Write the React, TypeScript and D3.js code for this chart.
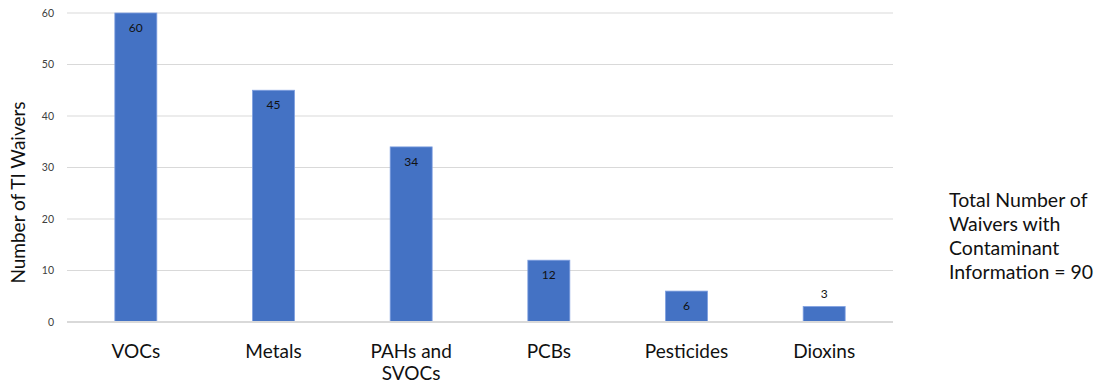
import React from "react";
import * as d3 from "d3";

const categories = ["VOCs", "Metals", "PAHs and SVOCs", "PCBs", "Pesticides", "Dioxins"];
const values = [60, 45, 34, 12, 6, 3];
const yTicks = [0, 10, 20, 30, 40, 50, 60];
const annotation = ["Total Number of", "Waivers with", "Contaminant", "Information = 90"];
const yTitle = "Number of TI Waivers";

const W = 1099, H = 387;
const left = 67, right = 893, top = 13, bottom = 322;
const font = "Lato, 'Open Sans', sans-serif";

export default function App() {
  const x = d3.scaleBand<string>().domain(categories).range([left, right]).paddingInner(0.695).paddingOuter(0.3475);
  const y = d3.scaleLinear().domain([0, 60]).range([bottom, top]);
  const labelLines: Record<string, string[]> = { "PAHs and SVOCs": ["PAHs and", "SVOCs"] };
  return (
    <svg width={W} height={H} style={{ position: "absolute", left: 0, top: 0, background: "#fff" }} fontFamily={font}>
      {yTicks.map((t) => (
        <g key={t}>
          {t > 0 && <line x1={left} x2={right} y1={y(t)} y2={y(t)} stroke="#d9d9d9" strokeWidth={1} />}
          <text x={54} y={y(t)} dy="0.35em" textAnchor="end" fontSize={10.5} fill="#404040">{t}</text>
        </g>
      ))}
      {categories.map((c, i) => {
        const bx = x(c)!;
        const bw = x.bandwidth();
        const by = y(values[i]);
        const h = bottom - by;
        const inside = h > 25;
        return (
          <g key={c}>
            <rect x={bx} y={by} width={bw} height={h} fill="#4472C4" stroke="#7f9fe0" strokeWidth={0.8} />
            <text x={bx + bw / 2} y={inside ? by + 15 : by - 13} dy="0.35em" textAnchor="middle" fontSize={12} fill="#111">{values[i]}</text>
            {(labelLines[c] || [c]).map((l, j) => (
              <text key={j} x={bx + bw / 2} y={358 + j * 22} textAnchor="middle" fontSize={19} fill="#111">{l}</text>
            ))}
          </g>
        );
      })}
      <line x1={left} x2={right} y1={bottom} y2={bottom} stroke="#d9d9d9" strokeWidth={2} />
      <text transform={`translate(25,${(top + bottom) / 2 + 25}) rotate(-90)`} textAnchor="middle" fontSize={19} fill="#111">{yTitle}</text>
      {annotation.map((l, i) => (
        <text key={i} x={949} y={207 + i * 24} fontSize={19.5} fill="#111">{l}</text>
      ))}
    </svg>
  );
}
